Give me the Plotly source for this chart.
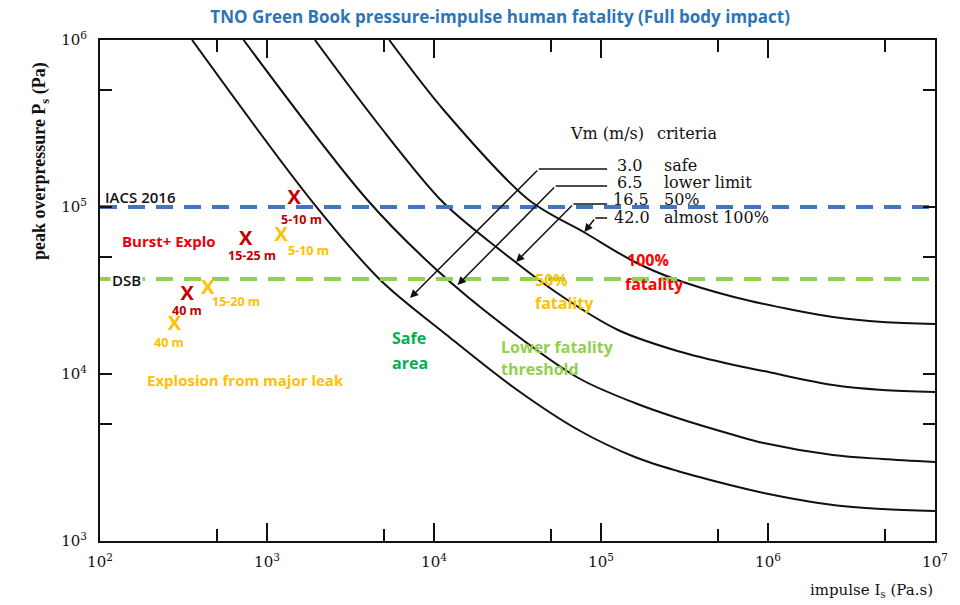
import numpy as np
import plotly.graph_objects as go

# ---------------- data ----------------
# Pressure-impulse curves (impulse Pa.s, peak overpressure Pa)
curve_names = ["3.0 safe", "6.5 lower limit", "16.5 50%", "42.0 almost 100%"]
c1_impulse = [356, 1834, 4770, 11910, 29730, 73240, 159500, 287000, 625000, 941800, 2449000, 4850000, 1e7]
c1_pressure = [1e6, 110100, 36550, 17120, 8360, 4620, 3184, 2626, 2135, 1939, 1643, 1555, 1512]
c2_impulse = [724, 3995, 10390, 25940, 73240, 159500, 287000, 625000, 941800, 2449000, 4850000, 1e7]
c2_pressure = [1e6, 110100, 41960, 19650, 9463, 6703, 5451, 4312, 3862, 3273, 3097, 2972]
c3_impulse = [1937, 4579, 11280, 23580, 53500, 126500, 287000, 625000, 941800, 2449000, 4850000, 1e7]
c3_pressure = [1e6, 318400, 107100, 57610, 30970, 18340, 13730, 11320, 10420, 8594, 8022, 7802]
c4_impulse = [5395, 11430, 37000, 80590, 159500, 275500, 625000, 1418000, 2449000, 4850000, 1e7]
c4_pressure = [1e6, 380900, 110100, 69870, 46850, 37060, 28920, 24160, 21940, 20480, 19920]

# Criteria thresholds (Pa)
threshold_names = ["IACS 2016", "DSB"]
threshold_values = [100000, 37000]

# Scenario points
burst_impulse = [1455, 745, 333]
burst_pressure = [111700, 63400, 29700]
burst_labels = ["5-10 m", "15-25 m", "40 m"]
leak_impulse = [1217, 443, 279]
leak_pressure = [67000, 32300, 19640]
leak_labels = ["5-10 m", "15-20 m", "40 m"]

# Axis ticks
x_major_vals = [1e2, 1e3, 1e4, 1e5, 1e6, 1e7]
x_major_text = ["10<sup>2</sup>", "10<sup>3</sup>", "10<sup>4</sup>", "10<sup>5</sup>", "10<sup>6</sup>", "10<sup>7</sup>"]
x_minor_vals = [5e2, 5e3, 5e4, 5e5, 5e6]
y_major_vals = [1e3, 1e4, 1e5, 1e6]
y_major_text = ["10<sup>3</sup>", "10<sup>4</sup>", "10<sup>5</sup>", "10<sup>6</sup>"]
y_minor_vals = [5e3, 5e4, 5e5]

# Legend leader callouts: horizontal start, horizontal end, arrow tip (impulse, pressure)
leader_h_start_I = [108800, 108800, 108800, 108800]
leader_h_end_I = [42410, 53500, 68410, 92390]
leader_h_P = [168900, 133600, 104200, 85940]
leader_tip_I = [7186, 13840, 30990, 79520]
leader_tip_P = [28520, 34110, 46850, 70860]

# ---------------- figure ----------------
fig = go.Figure()

for xi, yi in [(c1_impulse, c1_pressure), (c2_impulse, c2_pressure),
               (c3_impulse, c3_pressure), (c4_impulse, c4_pressure)]:
    fig.add_trace(go.Scatter(x=xi, y=yi, mode="lines",
                             line=dict(color="#111111", width=2, shape="spline", smoothing=0.9),
                             hoverinfo="skip", showlegend=False))

thr_colors = ["#4472C4", "#92D050"]
for val, col in zip(threshold_values, thr_colors):
    fig.add_trace(go.Scatter(x=[1e2, 1e7], y=[val, val], mode="lines",
                             line=dict(color=col, width=4, dash="17px,11px"),
                             hoverinfo="skip", showlegend=False))

# leader horizontal segments
for xs, xe, yh in zip(leader_h_start_I, leader_h_end_I, leader_h_P):
    fig.add_trace(go.Scatter(x=[xs, xe], y=[yh, yh], mode="lines",
                             line=dict(color="#111111", width=1.5),
                             hoverinfo="skip", showlegend=False))

# scenario markers
fig.add_trace(go.Scatter(x=burst_impulse, y=burst_pressure, mode="text", text=["<b>X</b>"] * 3,
                         textfont=dict(family="Open Sans", size=20, color="#C00000"),
                         textposition="middle center", showlegend=False, hoverinfo="skip"))
fig.add_trace(go.Scatter(x=leak_impulse, y=leak_pressure, mode="text", text=["<b>X</b>"] * 3,
                         textfont=dict(family="Open Sans", size=20, color="#FFC000"),
                         textposition="middle center", showlegend=False, hoverinfo="skip"))

# invisible trace on the overlay axis that carries the long major ticks
fig.add_trace(go.Scatter(x=[1e2, 1e7], y=[1e3, 1e6], xaxis="x2", yaxis="y", mode="lines",
                         line=dict(width=0), opacity=0, hoverinfo="skip", showlegend=False))

ann = []
burst_offsets = [(7, -21), (6, -15), (0, -15)]
leak_offsets = [(27, -14), (28, -13), (-5, -17)]
for xi, yi, lab, (dx, dy) in zip(burst_impulse, burst_pressure, burst_labels, burst_offsets):
    ann.append(dict(x=np.log10(xi), y=np.log10(yi), xref="x", yref="y", text=f"<b>{lab}</b>",
                    showarrow=False, xshift=dx, yshift=dy,
                    font=dict(family="Open Sans", size=12.5, color="#C00000")))
for xi, yi, lab, (dx, dy) in zip(leak_impulse, leak_pressure, leak_labels, leak_offsets):
    ann.append(dict(x=np.log10(xi), y=np.log10(yi), xref="x", yref="y", text=f"<b>{lab}</b>",
                    showarrow=False, xshift=dx, yshift=dy,
                    font=dict(family="Open Sans", size=12.5, color="#FFC000")))

# leader arrows
for xs, yh, xt, yt in zip(leader_h_end_I, leader_h_P, leader_tip_I, leader_tip_P):
    ann.append(dict(x=np.log10(xt), y=np.log10(yt), xref="x", yref="y",
                    ax=np.log10(xs), ay=np.log10(yh), axref="x", ayref="y",
                    showarrow=True, arrowhead=2, arrowsize=1.1, arrowwidth=1.5,
                    arrowcolor="#111111", text="", standoff=0))

def txt(text, lx, ly, color, size, family="Open Sans", bold=True, anchor="left", bg=None, weight=None):
    font = dict(family=family, size=size, color=color)
    if weight:
        font["weight"] = weight
    d = dict(x=lx, y=ly, xref="x", yref="y", text=(f"<b>{text}</b>" if bold else text),
             showarrow=False, xanchor=anchor, yanchor="middle", font=font)
    if bg:
        d["bgcolor"] = bg
        d["borderpad"] = 1
    return d

ann += [
    txt("IACS 2016", 2.018, 5.060, "#111111", 15, bold=False, weight=600),
    txt("DSB", 2.059, 4.563, "#111111", 15, bold=False, bg="white", weight=600),
    txt("Burst+ Explo", 2.119, 4.796, "#E8000B", 15),
    txt("Explosion from major leak", 2.267, 3.964, "#FFC000", 15),
    txt("Safe", 3.738, 4.216, "#00B050", 16),
    txt("area", 3.738, 4.066, "#00B050", 16),
    txt("Lower fatality", 4.390, 4.162, "#92D050", 16),
    txt("threshold", 4.390, 4.030, "#92D050", 16),
    txt("50%", 4.592, 4.563, "#FFC000", 16),
    txt("fatality", 4.592, 4.425, "#FFC000", 16),
    txt("100%", 5.144, 4.683, "#FF0000", 16),
    txt("fatality", 5.132, 4.539, "#FF0000", 16),
]

serif = "DejaVu Serif"
leg_y = [5.251, 5.144, 5.042, 4.940]
leg_num = ["3.0", "6.5", "16.5", "42.0"]
leg_lab = ["safe", "lower limit", "50%", "almost 100%"]
leg_x = [5.084, 5.084, 5.060, 5.066]
ann.append(txt("Vm (m/s)", 4.800, 5.443, "#111111", 16, family=serif, bold=False))
ann.append(txt("criteria", 5.321, 5.443, "#111111", 16, family=serif, bold=False))
for n, l, y, x in zip(leg_num, leg_lab, leg_y, leg_x):
    ann.append(txt(n, x, y, "#111111", 16, family=serif, bold=False))
    ann.append(txt(l, 5.363, y, "#111111", 16, family=serif, bold=False))

# axis titles
ann.append(dict(x=-0.071, y=0.758, xref="paper", yref="paper", xanchor="center", yanchor="middle",
                text="<b>peak overpressure P<sub>s</sub> (Pa)</b>", textangle=-90, showarrow=False,
                font=dict(family="Liberation Serif", size=18, color="#111111")))
ann.append(dict(x=1.0, y=-0.098, xref="paper", yref="paper", xanchor="right", yanchor="middle",
                text="impulse I<sub>s</sub> (Pa.s)", showarrow=False,
                font=dict(family=serif, size=15, color="#111111")))

tickfont = dict(family=serif, size=15, color="#111111")
x_all_vals = sorted(x_major_vals + x_minor_vals)
x_all_text = [x_major_text[x_major_vals.index(v)] if v in x_major_vals else "" for v in x_all_vals]
y_all_vals = sorted(y_major_vals + y_minor_vals)
y_all_text = [y_major_text[y_major_vals.index(v)] if v in y_major_vals else "" for v in y_all_vals]

fig.update_layout(
    width=960, height=605,
    margin=dict(l=100, r=17, t=40, b=64),
    paper_bgcolor="white", plot_bgcolor="white",
    title=dict(text="<b>TNO Green Book pressure-impulse human fatality (Full body impact)</b>",
               x=0.521, xref="container", xanchor="center",
               y=1 - 17 / 605, yref="container", yanchor="middle",
               font=dict(family="Open Sans", size=17, color="#2E75B6")),
    xaxis=dict(type="log", range=[2, 7], tickmode="array", tickvals=x_all_vals, ticktext=x_all_text,
               ticks="inside", ticklen=12, tickwidth=2, tickcolor="#111111",
               showline=True, linecolor="#111111", linewidth=2, mirror="ticks",
               showgrid=False, zeroline=False, tickfont=tickfont, ticklabelstandoff=6),
    xaxis2=dict(type="log", range=[2, 7], overlaying="x", anchor="y", side="bottom",
                tickmode="array", tickvals=x_major_vals, ticktext=[""] * len(x_major_vals),
                ticks="inside", ticklen=18, tickwidth=2, tickcolor="#111111",
                showline=True, linecolor="#111111", linewidth=2, mirror="ticks",
                showticklabels=False, showgrid=False, zeroline=False),
    yaxis=dict(type="log", range=[3, 6], tickmode="array", tickvals=y_all_vals, ticktext=y_all_text,
               ticks="inside", ticklen=12, tickwidth=2, tickcolor="#111111",
               showline=True, linecolor="#111111", linewidth=2, mirror="ticks",
               showgrid=False, zeroline=False, tickfont=tickfont, ticklabelstandoff=8),
    annotations=ann,
    showlegend=False,
)

fig.write_html("out.html")
